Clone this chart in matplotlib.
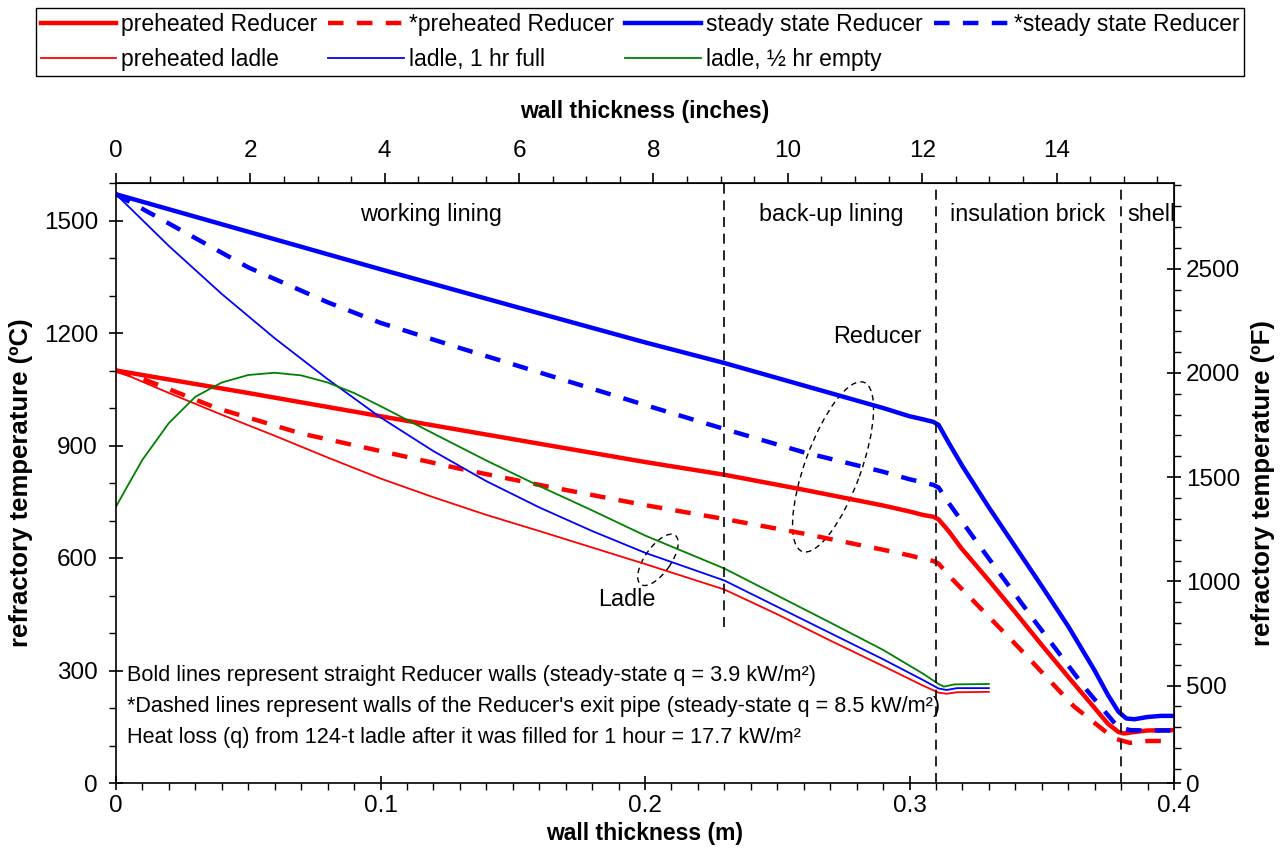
import numpy as np
import matplotlib
matplotlib.use('Agg')
import matplotlib.pyplot as plt
import matplotlib.transforms as mtransforms
from matplotlib.patches import Ellipse
from matplotlib.ticker import MultipleLocator

plt.rcParams['font.family'] = ['Liberation Sans', 'DejaVu Sans']

# wall position (m) and temperature (C)
ss_x = [0, 0.05, 0.10, 0.15, 0.20, 0.23, 0.26, 0.29, 0.30, 0.305, 0.309, 0.311, 0.315, 0.32,
        0.33, 0.34, 0.35, 0.36, 0.37, 0.375, 0.379, 0.382, 0.385, 0.39, 0.395, 0.40]
ss_T = [1570, 1470, 1370, 1272, 1175, 1120, 1060, 1000, 978, 970, 963, 955, 905, 845,
        735, 630, 525, 418, 300, 235, 190, 172, 170, 176, 179, 179]

ph_x = [0, 0.05, 0.10, 0.15, 0.20, 0.23, 0.26, 0.29, 0.30, 0.305, 0.309, 0.311, 0.315, 0.3195,
        0.33, 0.34, 0.35, 0.36, 0.37, 0.375, 0.379, 0.381, 0.385, 0.39, 0.40]
ph_T = [1100, 1040, 978, 917, 856, 822, 782, 740, 724, 715, 710, 703, 670, 627,
        540, 455, 368, 283, 200, 158, 136, 132, 136, 140, 141]

ssd_x = [0, 0.02, 0.05, 0.08, 0.10, 0.13, 0.16, 0.20, 0.23, 0.26, 0.29, 0.30, 0.305, 0.309,
         0.311, 0.315, 0.3258, 0.347, 0.367, 0.3787, 0.3834, 0.39, 0.40]
ssd_T = [1570, 1492, 1375, 1282, 1227, 1160, 1095, 1008, 944, 882, 830, 810, 802, 795,
         788, 745, 639, 435, 248, 150, 141, 140, 140]

phd_x = [0, 0.0107, 0.0384, 0.07, 0.1027, 0.13, 0.16, 0.20, 0.23, 0.26, 0.29, 0.30, 0.305,
         0.309, 0.311, 0.3157, 0.3409, 0.3622, 0.3773, 0.3834, 0.39, 0.40]
phd_T = [1100, 1076, 999, 932, 881, 838, 795, 741, 704, 665, 622, 607, 598,
         592, 585, 547, 364, 204, 119, 107, 112, 112]

lf_x = [0, 0.02, 0.04, 0.06, 0.08, 0.10, 0.12, 0.14, 0.16, 0.18, 0.20, 0.23, 0.25, 0.27,
        0.29, 0.305, 0.311, 0.314, 0.318, 0.33]
lf_T = [1570, 1432, 1304, 1186, 1077, 975, 885, 805, 735, 672, 614, 540, 470, 400,
        330, 275, 252, 248, 253, 253]

le_x = [0, 0.005, 0.01, 0.02, 0.03, 0.04, 0.05, 0.06, 0.07, 0.08, 0.09, 0.10, 0.12, 0.14,
        0.16, 0.18, 0.20, 0.23, 0.25, 0.27, 0.29, 0.305, 0.311, 0.313, 0.317, 0.33]
le_T = [737, 800, 862, 960, 1030, 1068, 1088, 1094, 1087, 1068, 1040, 1005, 932, 860,
        792, 727, 660, 572, 500, 428, 355, 292, 264, 257, 263, 264]

pl_x = [0, 0.02, 0.04, 0.06, 0.08, 0.10, 0.12, 0.14, 0.16, 0.18, 0.20, 0.23, 0.25, 0.27,
        0.29, 0.305, 0.311, 0.314, 0.318, 0.33]
pl_T = [1100, 1040, 982, 926, 868, 812, 762, 715, 672, 628, 584, 516, 450, 380,
        312, 260, 241, 238, 242, 243]

zone_x = [0.23, 0.31, 0.38]
zone_names = ['working lining', 'back-up lining', 'insulation brick', 'shell']

notes = ['Bold lines represent straight Reducer walls (steady-state q = 3.9 kW/m²)',
         '*Dashed lines represent walls of the Reducer\'s exit pipe (steady-state q = 8.5 kW/m²)',
         'Heat loss (q) from 124-t ladle after it was filled for 1 hour = 17.7 kW/m²']

fig = plt.figure(figsize=(12.86, 8.67), dpi=100)
ax = fig.add_axes([116 / 1286, 1 - 783 / 867, 1058 / 1286, 600 / 867])

bold = 3.2
thin = 1.3
dash = (0, (3.5, 3))
h1, = ax.plot(ph_x, ph_T, color='red', lw=bold, label='preheated Reducer')
h2, = ax.plot(phd_x, phd_T, color='red', lw=bold, ls=dash, label='*preheated Reducer')
h3, = ax.plot(ss_x, ss_T, color='blue', lw=bold, label='steady state Reducer')
h4, = ax.plot(ssd_x, ssd_T, color='blue', lw=bold, ls=dash, label='*steady state Reducer')
h5, = ax.plot(pl_x, pl_T, color='red', lw=thin, label='preheated ladle')
h6, = ax.plot(lf_x, lf_T, color='blue', lw=thin, label='ladle, 1 hr full')
h7, = ax.plot(le_x, le_T, color='#008000', lw=thin, label='ladle, ½ hr empty')

# zone boundaries
ax.vlines(zone_x[0], 416, 1600, colors='black', lw=1.2, linestyles=(0, (6, 4)))
ax.vlines(zone_x[1:], 0, 1600, colors='black', lw=1.2, linestyles=(0, (6, 4)))

tick_fs = 17.5
lab_fs = 16.5
ylab_fs = 18.5
txt_fs = 16.8

ax.set_xlim(0, 0.4)
ax.set_ylim(0, 1600)
ax.xaxis.set_minor_locator(MultipleLocator(0.01))
ax.yaxis.set_major_locator(MultipleLocator(300))
ax.yaxis.set_minor_locator(MultipleLocator(100))
ax.set_xticks([0, 0.1, 0.2, 0.3, 0.4], ['0', '0.1', '0.2', '0.3', '0.4'])
ax.tick_params(which='major', direction='inout', length=10, width=1.2, labelsize=tick_fs)
ax.tick_params(which='minor', direction='out', length=5, width=1)
ax.tick_params(axis='y', which='major', pad=8)
for s in ax.spines.values():
    s.set_linewidth(1.2)
ax.set_xlabel('wall thickness (m)', fontsize=lab_fs, fontweight='bold', labelpad=4)
ax.set_ylabel('refractory temperature (ºC)', fontsize=ylab_fs, fontweight='bold', labelpad=8)

top = ax.secondary_xaxis('top', functions=(lambda m: m / 0.0254, lambda i: i * 0.0254))
top.xaxis.set_major_locator(MultipleLocator(2))
top.xaxis.set_minor_locator(MultipleLocator(0.5))
top.tick_params(which='major', direction='out', length=7, width=1.2, labelsize=tick_fs, pad=8)
top.tick_params(which='minor', direction='out', length=5, width=1)
top.set_xlabel('wall thickness (inches)', fontsize=lab_fs, fontweight='bold', labelpad=16)

right = ax.secondary_yaxis('right', functions=(lambda c: c * 1.8 + 32, lambda f: (f - 32) / 1.8))
right.set_yticks([32, 500, 1000, 1500, 2000, 2500], ['0', '500', '1000', '1500', '2000', '2500'])
right.yaxis.set_minor_locator(MultipleLocator(100))
right.tick_params(which='major', direction='inout', length=10, width=1.2, labelsize=tick_fs)
right.tick_params(which='minor', direction='out', length=5, width=1)
right.set_ylabel('refractory temperature (ºF)', fontsize=ylab_fs, fontweight='bold', labelpad=8)

# zone names
ax.text(0.119, 1517, zone_names[0], fontsize=txt_fs, ha='center', va='center')
ax.text(0.2703, 1517, zone_names[1], fontsize=txt_fs, ha='center', va='center')
ax.text(0.3448, 1517, zone_names[2], fontsize=txt_fs, ha='center', va='center')
ax.text(0.3822, 1517, zone_names[3], fontsize=txt_fs, ha='left', va='center')

for t, y in zip(notes, [288, 203, 120]):
    ax.text(0.0042, y, t, fontsize=15.6, ha='left', va='center')

ax.text(0.2877, 1190, 'Reducer', fontsize=txt_fs, ha='center', va='center')
ax.text(0.1932, 488, 'Ladle', fontsize=txt_fs, ha='center', va='center')


def ring(cx, cy, a, b, ang):
    # ellipse sized in pixels, centred on a data point
    tr = fig.dpi_scale_trans + mtransforms.ScaledTranslation(cx, cy, ax.transData)
    e = Ellipse((0, 0), 2 * a / 100, 2 * b / 100, angle=ang, transform=tr,
                fill=False, ec='black', lw=1.0, ls=(0, (4, 3)))
    ax.add_patch(e)


ring(0.2049, 595, 30, 13, 55)
ring(0.2711, 843, 90, 28, 70)

order = [h1, h5, h2, h6, h3, h7, h4]
leg = fig.legend(order, [h.get_label() for h in order],
                 ncol=4, loc='upper left', bbox_to_anchor=(36 / 1286, 1 - 8 / 867),
                 fontsize=16.5, frameon=True, fancybox=False, edgecolor='black',
                 framealpha=1, handlelength=3.3, handletextpad=0.2, columnspacing=0.5,
                 labelspacing=0.55, borderpad=0.2, borderaxespad=0)
leg.get_frame().set_linewidth(1.0)

fig.savefig('out.png', dpi=100)
